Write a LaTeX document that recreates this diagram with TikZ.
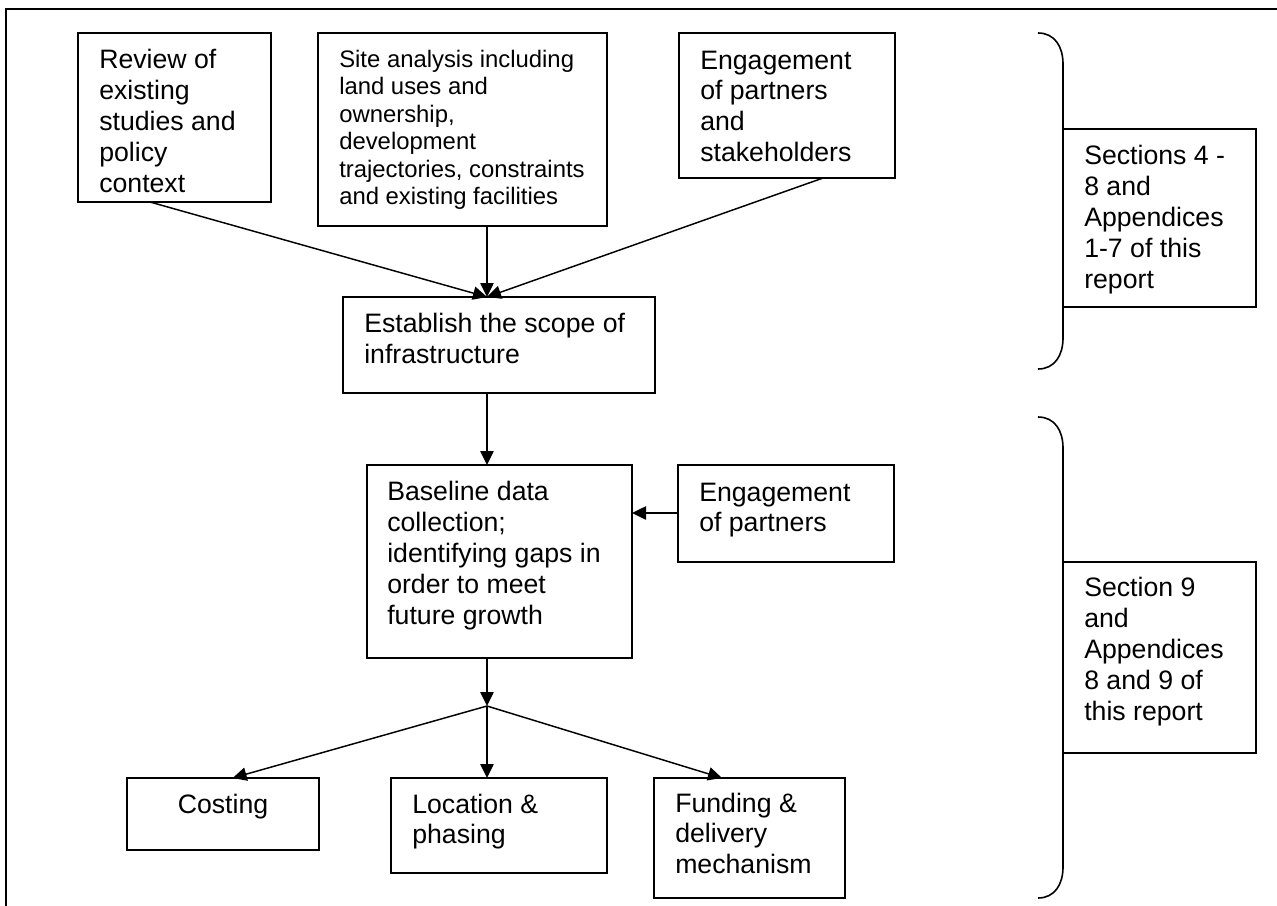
\documentclass[tikz,border=0pt]{standalone}
\usepackage{fontspec}
\setmainfont{Liberation Sans}
\usetikzlibrary{arrows.meta,calc}
\begin{document}
\begin{tikzpicture}[x=0.75pt,y=-0.75pt,
 box/.style={draw, line width=1.2pt, anchor=north west, inner sep=0pt, outer sep=0pt},
 txt/.style={anchor=base west, inner sep=0pt, align=left, font=\fontsize{20}{23.1}\selectfont},
 stxt/.style={txt, font=\fontsize{17.9}{20.6}\selectfont},
 arr/.style={line width=1.1pt, -{Triangle[length=10.5pt,width=10pt]}},
 ln/.style={line width=1.2pt}]
\useasboundingbox (0,0) rectangle (1277,906);
\fill[white] (0,0) rectangle (1277,906);
% outer frame
\draw[line width=1.4pt] (6,906) -- (6,9) -- (1277,9);
% boxes (text nodes anchored at the baseline of their last line)
\node[box, minimum width=193*0.75pt, minimum height=169*0.75pt] (b1) at (78,33) {};
\node[txt] (b1t) at (99,192) {Review of\\existing\\studies and\\policy\\context};
\node[box, minimum width=289*0.75pt, minimum height=193*0.75pt] (b2) at (318,33) {};
\node[stxt] (b2t) at (339,204.5) {Site analysis including\\land uses and\\ownership,\\development\\trajectories, constraints\\and existing facilities};
\node[box, minimum width=216*0.75pt, minimum height=145*0.75pt] (b3) at (679,33) {};
\node[txt] (b3t) at (700,161.4) {Engagement\\of partners\\and\\stakeholders};
\node[box, minimum width=312*0.75pt, minimum height=96*0.75pt] (est) at (343,297) {};
\node[txt] (estt) at (364,363.5) {Establish the scope of\\infrastructure};
\node[box, minimum width=265*0.75pt, minimum height=193*0.75pt] (base) at (367,465) {};
\node[txt] (baset) at (387,624) {Baseline data\\collection;\\identifying gaps in\\order to meet\\future growth};
\node[box, minimum width=216*0.75pt, minimum height=97*0.75pt] (eng) at (678,465) {};
\node[txt] (engt) at (699,531.8) {Engagement\\of partners};
\node[box, minimum width=192*0.75pt, minimum height=72*0.75pt] (cost) at (127,778) {};
\node[txt, anchor=base] (costt) at (223,813) {Costing};
\node[box, minimum width=216*0.75pt, minimum height=95*0.75pt] (loc) at (391,778) {};
\node[txt] (loct) at (412,843.8) {Location \&\\phasing};
\node[box, minimum width=191*0.75pt, minimum height=120*0.75pt] (fund) at (654,778) {};
\node[txt] (fundt) at (675,873.6) {Funding \&\\delivery\\mechanism};
% braces
\draw[ln] (1038,33) .. controls (1055,33) and (1063,47) .. (1063,64) -- (1063,338) .. controls (1063,355) and (1055,369) .. (1038,369);
\draw[ln] (1038,417) .. controls (1055,417) and (1063,431) .. (1063,448) -- (1063,867) .. controls (1063,884) and (1055,898) .. (1038,898);
\node[box, fill=white, minimum width=193*0.75pt, minimum height=178*0.75pt] (s1) at (1063,129) {};
\node[txt] (s1t) at (1084,288) {Sections 4 -\\8 and\\Appendices\\1-7 of this\\report};
\node[box, fill=white, minimum width=193*0.75pt, minimum height=191*0.75pt] (s2) at (1063,562) {};
\node[txt] (s2t) at (1084,720) {Section 9\\and\\Appendices\\8 and 9 of\\this report};
% connectors
\coordinate (conv) at ($(est.north west)!0.4615!(est.north east)$);
\draw[arr] ($(b1.south west)!0.373!(b1.south east)$) -- (conv);
\draw[arr] (conv |- b2.south) -- (conv);
\draw[arr] ($(b3.south west)!0.667!(b3.south east)$) -- (conv);
\draw[arr] (conv |- est.south) -- (conv |- base.north);
\draw[arr] (eng.west |- 0,513) -- (base.east |- 0,513);
\coordinate (split) at (conv |- 0,706);
\draw[arr] (conv |- base.south) -- (split);
\draw[arr] (split) -- ($(cost.north west)!0.55!(cost.north east)$);
\draw[arr] (split) -- (split |- loc.north);
\draw[arr] (split) -- ($(fund.north west)!0.356!(fund.north east)$);
\end{tikzpicture}
\end{document}
